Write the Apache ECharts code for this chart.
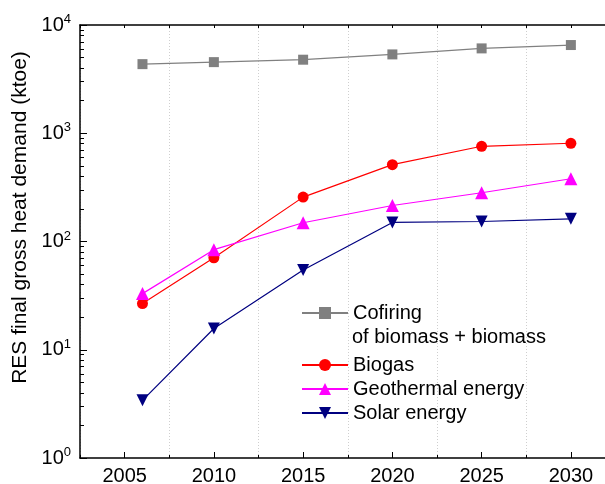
<!DOCTYPE html>
<html>
<head>
<meta charset="utf-8">
<script src="https://cdn.jsdelivr.net/npm/echarts@6/dist/echarts.min.js"></script>
<style>
  html, body { margin: 0; padding: 0; background: #fff; }
  #chart { width: 605px; height: 484px; }
</style>
</head>
<body>
<div id="chart"></div>
<script>
  var years = [2006, 2010, 2015, 2020, 2025, 2030];
  var cofiring = [4350, 4540, 4780, 5350, 6080, 6530];
  var biogas = [26.7, 70.6, 257, 513, 758, 808];
  var geothermal = [33, 84, 149, 215, 282, 380];
  var solar = [3.41, 15.7, 54.5, 150, 153, 162];
  var xLabels = [2005, 2010, 2015, 2020, 2025, 2030];

  var fontFamily = 'Liberation Sans, Arial, sans-serif';
  var black = '#000';

  function pairs(vals) {
    return years.map(function (y, i) { return [y, vals[i]]; });
  }

  var chart = echarts.init(document.getElementById('chart'));

  chart.setOption({
    backgroundColor: '#fff',
    animation: false,
    textStyle: { fontFamily: fontFamily },
    grid: {
      left: 80,
      right: -10.5,
      top: 25,
      bottom: 26,
      outerBoundsMode: 'none',
      containLabel: false
    },
    legend: [{
      // first entry only shows the first line, second line is a graphic text
      data: ['Cofiring of biomass + biomass'],
      formatter: function () { return 'Cofiring'; },
      orient: 'vertical',
      left: 301,
      top: 303,
      padding: 0,
      itemWidth: 46,
      itemHeight: 15,
      textStyle: { fontSize: 20, color: black, lineHeight: 20, fontFamily: fontFamily }
    }, {
      data: ['Biogas', 'Geothermal energy', 'Solar energy'],
      orient: 'vertical',
      left: 301,
      top: 355,
      padding: 0,
      itemGap: 4,
      itemWidth: 46,
      itemHeight: 15,
      textStyle: { fontSize: 20, color: black, lineHeight: 20, fontFamily: fontFamily }
    }],
    graphic: [{
      type: 'text',
      left: 352,
      top: 327,
      style: {
        text: 'of biomass + biomass',
        fill: black,
        font: '20px ' + fontFamily
      }
    }],
    xAxis: [{
      type: 'value',
      position: 'bottom',
      min: 2002.5,
      max: 2032.5,
      interval: 5,
      axisLine: { show: true, lineStyle: { color: black, width: 1.5 } },
      axisTick: { show: true, inside: true, length: 3, lineStyle: { color: black } },
      minorTick: { show: true, splitNumber: 2, length: 6, lineStyle: { color: black } },
      axisLabel: { show: false },
      splitLine: { show: true, lineStyle: { color: '#cfcfcf', type: [1, 2], width: 1 } }
    }, {
      type: 'value',
      position: 'bottom',
      min: 2002.5,
      max: 2032.5,
      interval: 2.5,
      axisLine: { show: false },
      axisTick: { show: false },
      splitLine: { show: false },
      axisLabel: {
        color: black,
        fontSize: 20,
        margin: 8,
        formatter: function (v) {
          return xLabels.indexOf(v) >= 0 ? String(v) : '';
        }
      }
    }, {
      type: 'value',
      position: 'top',
      min: 2002.5,
      max: 2032.5,
      interval: 2.5,
      axisLine: { show: true, lineStyle: { color: black, width: 1.5 } },
      axisTick: { show: true, inside: true, length: 3, lineStyle: { color: black } },
      axisLabel: { show: false },
      splitLine: { show: false }
    }],
    yAxis: {
      type: 'log',
      logBase: 10,
      min: 1,
      max: 10000,
      name: 'RES final gross heat demand (ktoe)',
      nameLocation: 'middle',
      nameGap: 47,
      // title sits a bit above the middle of the axis
      nameTextStyle: { fontSize: 21, color: black, padding: [0, 0, 0, 48] },
      axisLine: { show: true, lineStyle: { color: black, width: 1.5 } },
      axisTick: { show: true, inside: true, length: 7, lineStyle: { color: black } },
      minorTick: { show: true, splitNumber: 9, length: 4, lineStyle: { color: black } },
      splitLine: { show: false },
      axisLabel: {
        color: black,
        fontSize: 20,
        margin: 9,
        formatter: function (v) {
          return '10{sup|' + Math.round(Math.log10(v)) + '}';
        },
        rich: {
          sup: { fontSize: 13, padding: [0, 0, 11, 0], color: black }
        }
      }
    },
    series: [{
      name: 'Cofiring of biomass + biomass',
      type: 'line',
      xAxisIndex: 0,
      data: pairs(cofiring),
      symbol: 'rect',
      symbolSize: 10,
      color: '#808080',
      lineStyle: { width: 1.2, color: '#808080' },
      itemStyle: { color: '#808080' }
    }, {
      name: 'Biogas',
      type: 'line',
      xAxisIndex: 0,
      data: pairs(biogas),
      symbol: 'circle',
      symbolSize: 11,
      color: '#ff0000',
      lineStyle: { width: 1.2, color: '#ff0000' },
      itemStyle: { color: '#ff0000' }
    }, {
      name: 'Geothermal energy',
      type: 'line',
      xAxisIndex: 0,
      data: pairs(geothermal),
      symbol: 'triangle',
      symbolSize: 13,
      color: '#ff00ff',
      lineStyle: { width: 1.2, color: '#ff00ff' },
      itemStyle: { color: '#ff00ff' }
    }, {
      name: 'Solar energy',
      type: 'line',
      xAxisIndex: 0,
      data: pairs(solar),
      symbol: 'triangle',
      symbolRotate: 180,
      symbolSize: 12,
      color: '#000080',
      lineStyle: { width: 1.2, color: '#000080' },
      itemStyle: { color: '#000080' }
    }]
  });
</script>
</body>
</html>
